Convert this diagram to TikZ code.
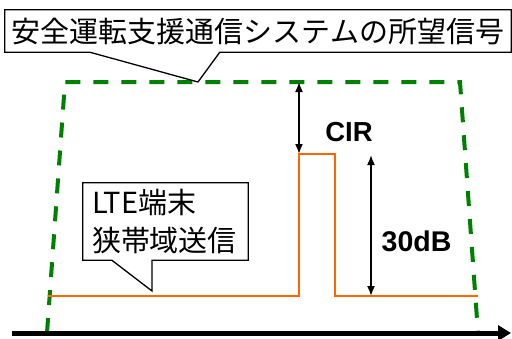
\documentclass[tikz,border=0pt]{standalone}
\usepackage{fontspec}
\setmainfont{Noto Sans CJK JP}
\newfontfamily\labelfont{Liberation Sans}
\usepackage{xcolor}
\usepackage{tikz}
\usetikzlibrary{arrows.meta,calc}

\definecolor{maskgreen}{RGB}{0,128,0}
\definecolor{lteorange}{RGB}{255,102,0}

\begin{document}
\begin{tikzpicture}[
  x=1pt, y=-1pt,
  font=\fontsize{29}{38}\selectfont,
  callout/.style={draw, line width=1.3pt, line join=miter},
  mask/.style={draw=maskgreen, line width=4pt, dash pattern=on 15pt off 13pt},
  signal/.style={draw=lteorange, line width=2.6pt},
  dim/.style={{Latex[length=10pt,width=8pt]}-{Latex[length=10pt,width=8pt]}, line width=1.6pt},
  axis/.style={-{Triangle[length=13pt,width=15pt]}, line width=5pt},
  tag/.style={font=\labelfont\bfseries\fontsize{27.5}{30}\selectfont, inner sep=0pt}
]
  \useasboundingbox (0,0) rectangle (512,338);

  % spectrum mask of the wanted signal
  \coordinate (m_bl) at (47,333);
  \coordinate (m_tl) at (65,82);
  \coordinate (m_tr) at (460,82);
  \coordinate (m_br) at (478,333);
  \draw[mask] (m_bl) -- (m_tl) -- (m_tr) -- (m_br);

  % LTE narrow band signal
  \coordinate (s_start) at (48,296);
  \coordinate (s_up) at (299,296);
  \coordinate (s_peakl) at (299,154);
  \coordinate (s_peakr) at (335,154);
  \coordinate (s_down) at (335,296);
  \coordinate (s_end) at (478,296);
  \draw[signal] (s_start) -- (s_up) -- (s_peakl) -- (s_peakr) -- (s_down) -- (s_end);

  % frequency axis
  \coordinate (ax_l) at (12,333);
  \coordinate (ax_r) at (511,333);
  \draw[axis] (ax_l) -- (ax_r);

  % levels
  \coordinate (cir_top) at (299,82);
  \coordinate (db_top) at (371,155);
  \coordinate (db_bot) at (371,296);
  \draw[dim] (cir_top) -- (s_peakl);
  \draw[dim] (db_top) -- (db_bot);
  \node[tag] (cir) at (349,132.5) {CIR};
  \node[tag, font=\labelfont\bfseries\fontsize{28.5}{30}\selectfont] (db) at (416.5,241.5) {30dB};

  % callouts
  \node[minimum width=506pt, minimum height=42pt, inner sep=0pt] (want) at (258,31)
    {安全運転支援通信システムの所望信号};
  \draw[callout] (want.north west) -- (want.north east) -- (want.south east)
    -- ($(want.south west)+(215,0)$) -- (m_tl -| 198,0) -- ($(want.south west)+(85,0)$)
    -- (want.south west) -- cycle;

  \node[minimum width=165pt, minimum height=77pt, inner xsep=9pt, inner ysep=0pt,
    text width=147pt, align=left] (lte) at (165.5,221.5) {LTE端末\\狭帯域送信};
  \coordinate (lte_tip) at (152,291);
  \draw[callout] (lte.north west) -- (lte.north east) -- (lte.south east)
    -- (lte.south -| lte_tip) -- (lte_tip) -- ($(lte.south west)+(29,0)$)
    -- (lte.south west) -- cycle;
\end{tikzpicture}
\end{document}
